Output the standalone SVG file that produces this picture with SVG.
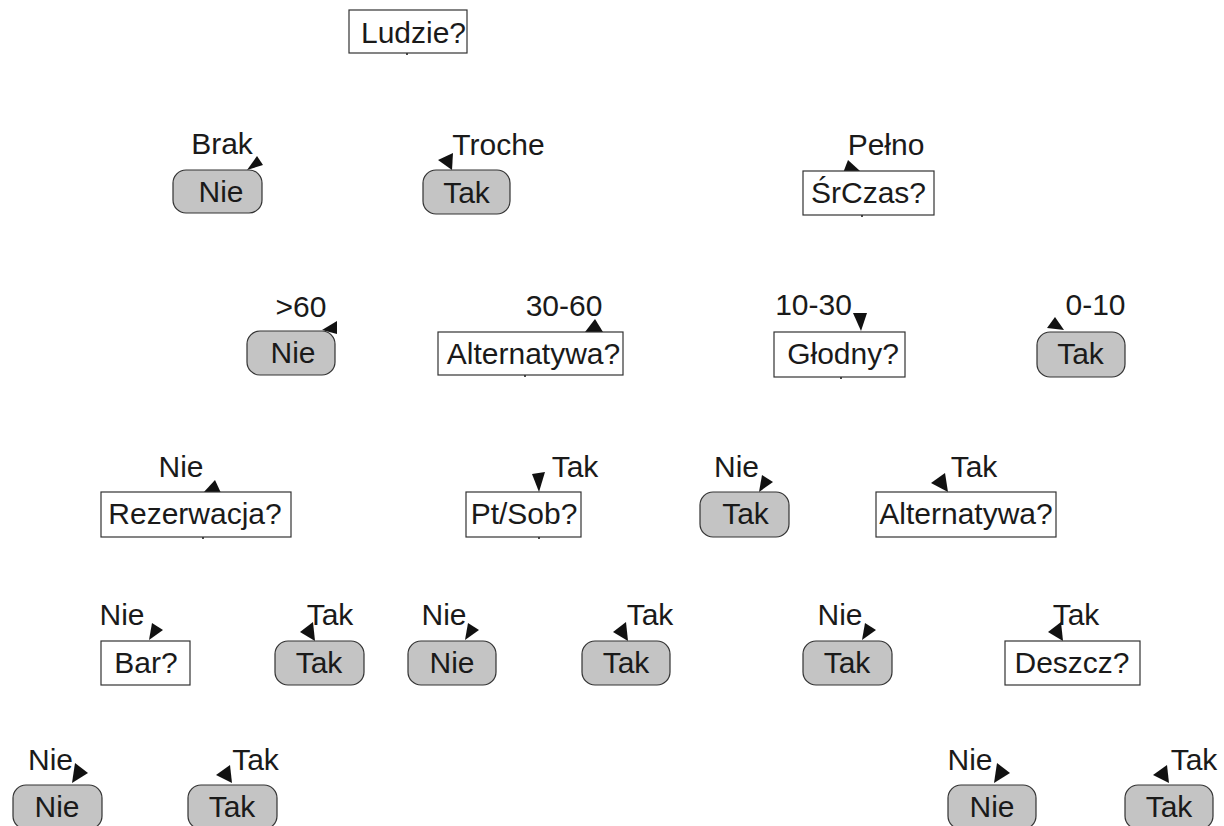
<svg xmlns="http://www.w3.org/2000/svg" width="1224" height="826" viewBox="0 0 1224 826">
  <style>
    text { font-family: "Liberation Sans", Arial, sans-serif; font-size: 30px; fill: #1a1a1a; text-anchor: middle; }
    .leaf rect { fill: #c4c4c4; stroke: #333; stroke-width: 1.2; }
    .dec rect { fill: #fff; stroke: #333; stroke-width: 1.2; }
    .head { fill: #111; }
    .tick { stroke: #111; stroke-width: 1.5; }
  </style>
  <rect width="1224" height="826" fill="#fff"/>

  <!-- arrowheads of the branches, with the stubs where branches leave a question -->
  <g id="connectors">
    <line class="tick" x1="407" y1="53" x2="407" y2="55"/>
    <line class="tick" x1="862" y1="215" x2="862" y2="217"/>
    <line class="tick" x1="525" y1="375" x2="525" y2="377"/>
    <line class="tick" x1="841" y1="377" x2="841" y2="379"/>
    <line class="tick" x1="203" y1="537" x2="203" y2="539"/>
    <line class="tick" x1="539" y1="537" x2="539" y2="539"/>
    <polygon class="head" points="247,170 257,156 263,165"/>
    <polygon class="head" points="452,170 438,160 453,153"/>
    <polygon class="head" points="860,171 843,173 848,160"/>
    <polygon class="head" points="322,330 337,321 337,334"/>
    <polygon class="head" points="595,319 585,332 603,332"/>
    <polygon class="head" points="853,313 867,313 861,331"/>
    <polygon class="head" points="1055,317 1047,328 1064,330"/>
    <polygon class="head" points="215,480 203,493 221,493"/>
    <polygon class="head" points="532,474 545,472 539,492"/>
    <polygon class="head" points="762,475 773,482 759,492"/>
    <polygon class="head" points="931,483 945,473 948,492"/>
    <polygon class="head" points="152,623 163,630 149,640"/>
    <polygon class="head" points="300,632 313,622 315,641"/>
    <polygon class="head" points="468,623 479,630 465,640"/>
    <polygon class="head" points="613,632 626,622 628,641"/>
    <polygon class="head" points="865,623 876,630 862,640"/>
    <polygon class="head" points="1048,632 1061,622 1063,641"/>
    <polygon class="head" points="75,763 88,773 72,783"/>
    <polygon class="head" points="216,775 230,765 232,783"/>
    <polygon class="head" points="997,763 1010,773 994,783"/>
    <polygon class="head" points="1153,775 1167,765 1169,783"/>
  </g>

  <!-- level 0 -->
  <g id="ludzie" class="dec"><rect x="349" y="10" width="118" height="43"/><text x="413.5" y="43">Ludzie?</text></g>

  <!-- level 1 -->
  <g id="brak" class="leaf"><text x="222" y="154">Brak</text><rect x="173" y="170" width="89" height="43" rx="13"/><text x="221" y="202">Nie</text></g>
  <g id="troche" class="leaf"><text x="498.5" y="155">Troche</text><rect x="423" y="170" width="87" height="44" rx="13"/><text x="466.5" y="203">Tak</text></g>
  <g id="srczas" class="dec"><text x="886" y="155">Pełno</text><rect x="803" y="171" width="131" height="44"/><text x="868.5" y="203">ŚrCzas?</text></g>

  <!-- level 2 -->
  <g id="ponad60" class="leaf"><text x="301" y="317">&gt;60</text><rect x="247" y="331" width="88" height="44" rx="13"/><text x="293" y="363">Nie</text></g>
  <g id="alt1" class="dec"><text x="564" y="316">30-60</text><rect x="438" y="332" width="185" height="43"/><text x="533.5" y="364">Alternatywa?</text></g>
  <g id="glodny" class="dec"><text x="813.5" y="315">10-30</text><rect x="774" y="332" width="131" height="45"/><text x="843" y="364">Głodny?</text></g>
  <g id="do10" class="leaf"><text x="1095.5" y="315">0-10</text><rect x="1037" y="332" width="88" height="45" rx="13"/><text x="1080.5" y="364">Tak</text></g>

  <!-- level 3 -->
  <g id="rezerwacja" class="dec"><text x="181" y="477">Nie</text><rect x="101" y="492" width="190" height="45"/><text x="195" y="524">Rezerwacja?</text></g>
  <g id="ptsob" class="dec"><text x="575" y="477">Tak</text><rect x="466" y="492" width="115" height="45"/><text x="524" y="524">Pt/Sob?</text></g>
  <g id="glodny-nie" class="leaf"><text x="736.5" y="477">Nie</text><rect x="700" y="492" width="89" height="45" rx="13"/><text x="745.5" y="524">Tak</text></g>
  <g id="alt2" class="dec"><text x="974" y="477">Tak</text><rect x="876" y="492" width="180" height="45"/><text x="966" y="524">Alternatywa?</text></g>

  <!-- level 4 -->
  <g id="bar" class="dec"><text x="122" y="625">Nie</text><rect x="101" y="641" width="89" height="44"/><text x="146" y="673">Bar?</text></g>
  <g id="rez-tak" class="leaf"><text x="330" y="625">Tak</text><rect x="275" y="641" width="89" height="44" rx="13"/><text x="319" y="673">Tak</text></g>
  <g id="pt-nie" class="leaf"><text x="444" y="625">Nie</text><rect x="408" y="641" width="88" height="44" rx="13"/><text x="452" y="673">Nie</text></g>
  <g id="pt-tak" class="leaf"><text x="650" y="625">Tak</text><rect x="582" y="641" width="88" height="44" rx="13"/><text x="626" y="673">Tak</text></g>
  <g id="alt2-nie" class="leaf"><text x="840" y="625">Nie</text><rect x="803" y="641" width="89" height="44" rx="13"/><text x="847" y="673">Tak</text></g>
  <g id="deszcz" class="dec"><text x="1076" y="625">Tak</text><rect x="1005" y="641" width="135" height="44"/><text x="1072" y="673">Deszcz?</text></g>

  <!-- level 5 -->
  <g id="bar-nie" class="leaf"><text x="50.5" y="770">Nie</text><rect x="13" y="785" width="89" height="44" rx="13"/><text x="57" y="817">Nie</text></g>
  <g id="bar-tak" class="leaf"><text x="255.5" y="770">Tak</text><rect x="188" y="785" width="89" height="44" rx="13"/><text x="232" y="817">Tak</text></g>
  <g id="deszcz-nie" class="leaf"><text x="970" y="770">Nie</text><rect x="948" y="785" width="88" height="44" rx="13"/><text x="992" y="817">Nie</text></g>
  <g id="deszcz-tak" class="leaf"><text x="1194" y="770">Tak</text><rect x="1125" y="785" width="88" height="44" rx="13"/><text x="1169" y="817">Tak</text></g>
</svg>
